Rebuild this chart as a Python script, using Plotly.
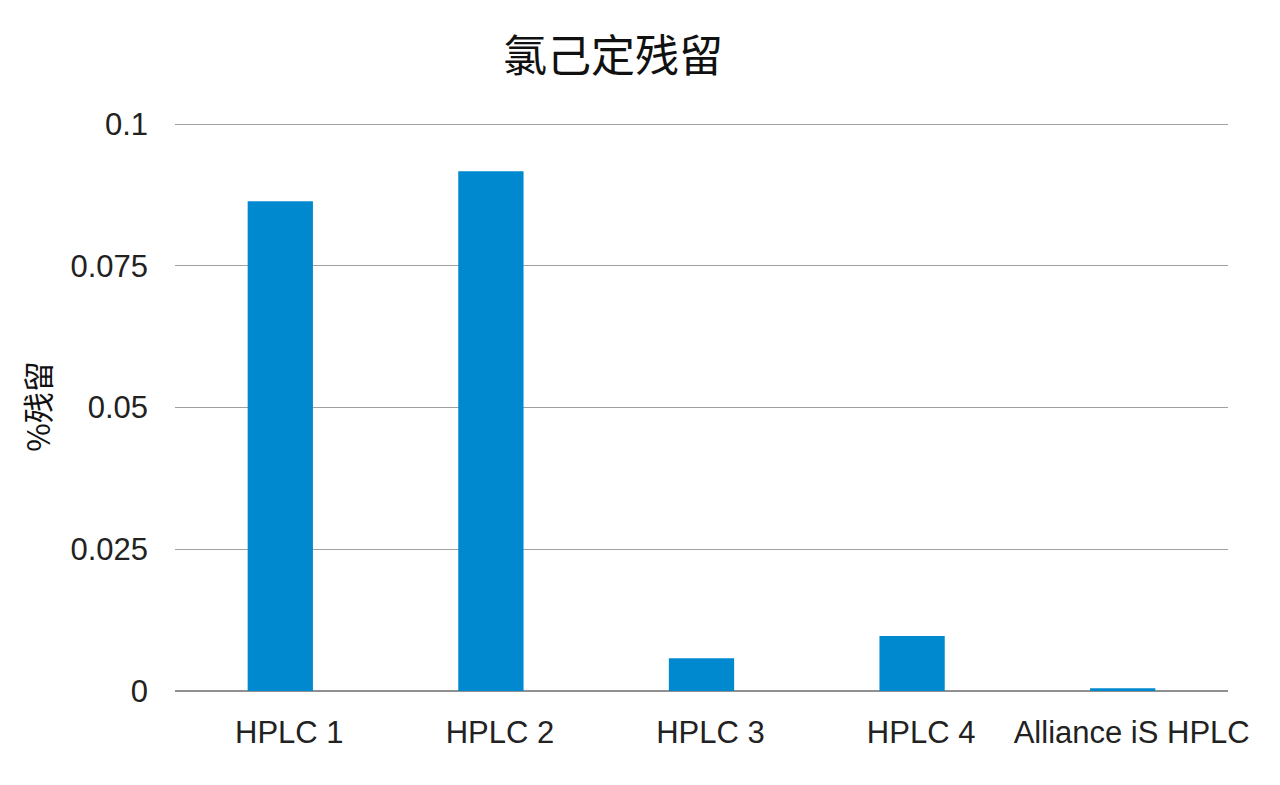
import plotly.graph_objects as go

# 数据
instruments = ["HPLC 1", "HPLC 2", "HPLC 3", "HPLC 4", "Alliance iS HPLC"]
residue_pct = [0.0864, 0.0917, 0.0058, 0.0097, 0.0005]
y_ticks = [0, 0.025, 0.05, 0.075, 0.1]
y_tick_labels = ["0", "0.025", "0.05", "0.075", "0.1"]

fig = go.Figure(
    data=[
        go.Bar(
            x=instruments,
            y=residue_pct,
            marker=dict(color="#0089CF", line=dict(width=0)),
        )
    ]
)

fig.update_layout(
    title=dict(
        text="氯己定残留",
        font=dict(family="Noto Sans CJK SC", size=44, color="#111111"),
        x=0.4727,
        xanchor="center",
        y=0.9376,
        yanchor="middle",
    ),
    width=1280,
    height=785,
    margin=dict(l=167, r=60, t=114, b=102),
    paper_bgcolor="white",
    plot_bgcolor="white",
    bargap=0.69,
    showlegend=False,
    font=dict(family="Liberation Sans, Arial", size=31, color="#222222"),
)

fig.update_xaxes(
    showgrid=False,
    showline=False,
    ticks="",
    ticklabelstandoff=20,
    ticklabelshift=9,
    tickfont=dict(size=31),
)

# 上限略高于0.1，使顶部网格线显示出来
fig.update_yaxes(
    range=[0, 0.1004],
    tickvals=y_ticks,
    ticktext=y_tick_labels,
    showgrid=True,
    gridcolor="#A0A0A0",
    gridwidth=1.3,
    zeroline=True,
    zerolinecolor="#909090",
    zerolinewidth=1.5,
    showline=False,
    ticks="",
    ticklabelstandoff=26,
    tickfont=dict(size=31),
    title=dict(
        text="%残留",
        font=dict(family="Noto Sans CJK SC", size=31, color="#111111"),
        standoff=10,
    ),
)

fig.write_html("out.html")
